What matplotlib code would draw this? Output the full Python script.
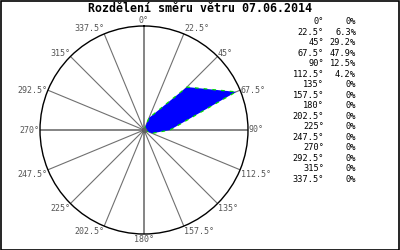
import numpy as np
import matplotlib
matplotlib.use("Agg")
import matplotlib.pyplot as plt
from matplotlib.patches import Rectangle

title = "Rozdělení směru větru 07.06.2014"
directions = [0, 22.5, 45, 67.5, 90, 112.5, 135, 157.5, 180, 202.5, 225, 247.5, 270, 292.5, 315, 337.5]
dir_labels = ["0°", "22.5°", "45°", "67.5°", "90°", "112.5°", "135°", "157.5°", "180°",
              "202.5°", "225°", "247.5°", "270°", "292.5°", "315°", "337.5°"]
percent = [0, 6.3, 29.2, 47.9, 12.5, 4.2, 0, 0, 0, 0, 0, 0, 0, 0, 0, 0]
pct_labels = ["0%", "6.3%", "29.2%", "47.9%", "12.5%", "4.2%", "0%", "0%", "0%", "0%",
              "0%", "0%", "0%", "0%", "0%", "0%"]
rmax = 50

fig = plt.figure(figsize=(4, 2.5), dpi=100)
fig.patch.set_facecolor("white")
fig.add_artist(Rectangle((0.5/400, 0.5/250), 398.5/400, 248.5/250, transform=fig.transFigure,
                         fill=False, edgecolor="black", lw=1.2))

ax = fig.add_axes([40/400, (120-104)/250, 208/400, 208/250], projection="polar")
ax.set_theta_zero_location("N")
ax.set_theta_direction(-1)
ax.set_ylim(0, rmax)
ax.grid(False)
ax.set_xticks([])
ax.set_yticks([])
ax.spines["polar"].set_color("black")
ax.spines["polar"].set_linewidth(1.0)
ax.set_facecolor("white")

th = np.deg2rad(directions)
for t, d in zip(th, directions):
    lw = 1.2 if d % 90 == 0 else 0.8
    ax.plot([t, t], [0, rmax], color="#707070", lw=lw, zorder=1)

tc = np.append(th, th[0])
rc = np.append(percent, percent[0])
ax.fill(tc, rc, color="#0000ff", zorder=3, lw=0)
ax.plot(tc, rc, color="#00dd00", lw=0.9, ls=(0, (3, 4)), zorder=4)
ax.plot([0], [0], "o", color="#606060", ms=3, zorder=5)

mono = "DejaVu Sans Mono"
for t, d, lab in zip(th, directions, dir_labels):
    s = np.sin(t); c = np.cos(t)
    if d == 0:
        ha, va = "center", "bottom"
    elif d == 180:
        ha, va = "center", "top"
    elif d == 90:
        ha, va = "left", "center"
    elif d == 270:
        ha, va = "right", "center"
    else:
        ha = "left" if s > 0 else "right"
        va = "bottom" if c > 0 else "top"
    if d in (67.5, 292.5, 45, 315):
        va = "center" if d in (67.5, 292.5) else "baseline"
    ax.text(t, rmax * 1.005, lab, ha=ha, va=va, fontsize=6.0, family=mono, color="#555555",
            zorder=6)

fig.text(0.5, 0.966, title, ha="center", va="center", fontsize=8.4, family=mono,
         fontweight="bold", color="black")

y0 = (250 - 22) / 250
dy = 10.47 / 250
for i, (lab, p) in enumerate(zip(dir_labels, pct_labels)):
    y = y0 - i * dy
    fig.text(324/400, y, lab, ha="right", va="center", fontsize=6.2, family=mono, color="black")
    fig.text(356/400, y, p, ha="right", va="center", fontsize=6.2, family=mono, color="black")

fig.savefig("out.png", dpi=100, facecolor="white")
